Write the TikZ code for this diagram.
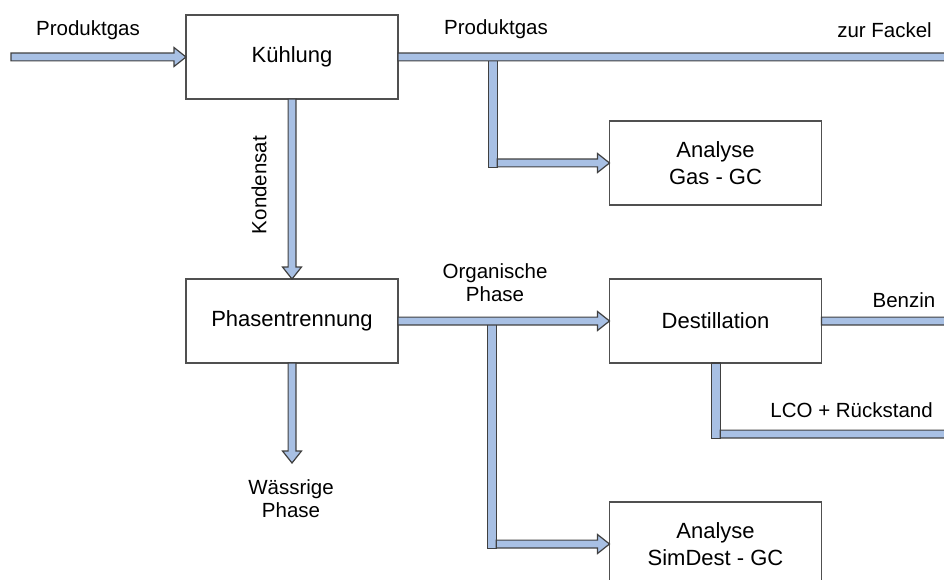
\documentclass[tikz,border=0pt]{standalone}
\usepackage{fontspec}
\setmainfont{Liberation Sans}
\usetikzlibrary{calc}

\definecolor{flowfill}{HTML}{A8C0E4}
\definecolor{flowline}{HTML}{404040}
\definecolor{boxline}{HTML}{505050}

\tikzset{
  procbox/.style={draw=boxline, line width=1.3pt, fill=white,
    minimum width=212pt, minimum height=84pt, inner sep=0pt, outer sep=0pt,
    align=center, font=\fontsize{22}{27}\selectfont},
  lbl/.style={align=center, inner sep=0pt, font=\fontsize{20.5}{23}\selectfont},
  flowstyle/.style={fill=flowfill, draw=flowline, line width=1.2pt, line join=miter},
  % broad block arrow with outlined head, from start to target
  flow/.style={flowstyle, to path={
    let \p1=(\tikztostart), \p2=(\tikztotarget), \n1={atan2(\y2-\y1,\x2-\x1)} in
    ($(\p1)+(\n1+90:3.9pt)$)
    -- ($(\p2)+(\n1:-12pt)+(\n1+90:3.9pt)$)
    -- ($(\p2)+(\n1:-12pt)+(\n1+90:9.5pt)$)
    -- (\p2)
    -- ($(\p2)+(\n1:-12pt)+(\n1-90:9.5pt)$)
    -- ($(\p2)+(\n1:-12pt)+(\n1-90:3.9pt)$)
    -- ($(\p1)+(\n1-90:3.9pt)$) -- cycle}},
  % plain bar without head, used for the branch stems
  flowbar/.style={flowstyle, to path={
    let \p1=(\tikztostart), \p2=(\tikztotarget), \n1={atan2(\y2-\y1,\x2-\x1)} in
    ($(\p1)+(\n1+90:4.3pt)$) rectangle ($(\p2)+(\n1-90:4.3pt)$)}}
}

\begin{document}
\begin{tikzpicture}[x=1pt, y=-1pt]
\useasboundingbox (0,0) rectangle (944,580);
\clip (0,0) rectangle (944,580);

% process blocks
\node[procbox] (kuehl)   at (292,57)    {Kühlung};
\node[procbox] (phasen)  at (292,321)   {Phasentrennung};
\node[procbox] (gasgc)   at (715.5,163) {Analyse\\Gas - GC};
\node[procbox] (destill) at (715.5,321) {Destillation};
\node[procbox] (simgc)   at (715.5,544) {Analyse\\SimDest - GC};

% free ends and branch points
\coordinate (feed)   at (11,57);
\coordinate (fackel) at (958,57);
\coordinate (gtop)   at (493,57);
\coordinate (gbot)   at (493,167.5);
\coordinate (gjoin)  at (497.3,163);
\coordinate (otop)   at (492,321);
\coordinate (obot)   at (492,548.5);
\coordinate (ojoin)  at (496.3,544);
\coordinate (water)  at (292,463);
\coordinate (benzin) at (958,321);
\coordinate (ltop)   at (716,363);
\coordinate (lbot)   at (716,438.5);
\coordinate (ljoin)  at (720.3,434);
\coordinate (lco)    at (958,434);

% gas line
\draw[flow] (feed) to (kuehl.west);
\draw[flowbar] (gtop) to (gbot);
\draw[flow] (kuehl.east) to (fackel);
\draw[flow] (gjoin) to (gasgc.west);

% condensate and phases
\draw[flow] (kuehl.south) to (phasen.north);
\draw[flow] (phasen.south) to (water);
\draw[flowbar] (otop) to (obot);
\draw[flow] (phasen.east) to (destill.west);
\draw[flow] (ojoin) to (simgc.west);

% distillation products
\draw[flow] (destill.east) to (benzin);
\draw[flowbar] (ltop) to (lbot);
\draw[flow] (ljoin) to (lco);

% stream labels
\node[lbl] (l1) at (88,30)   {Produktgas};
\node[lbl] (l2) at (496,29)  {Produktgas};
\node[lbl, anchor=east] (l3) at (932,30) {zur Fackel};
\node[lbl, rotate=90] (l4) at (259,185) {Kondensat};
\node[lbl] (l5) at (495,283) {Organische\\Phase};
\node[lbl] (l6) at (904,300) {Benzin};
\node[lbl, anchor=east] (l7) at (933,410) {LCO + Rückstand};
\node[lbl] (l8) at (291,499) {Wässrige\\Phase};
\end{tikzpicture}
\end{document}
